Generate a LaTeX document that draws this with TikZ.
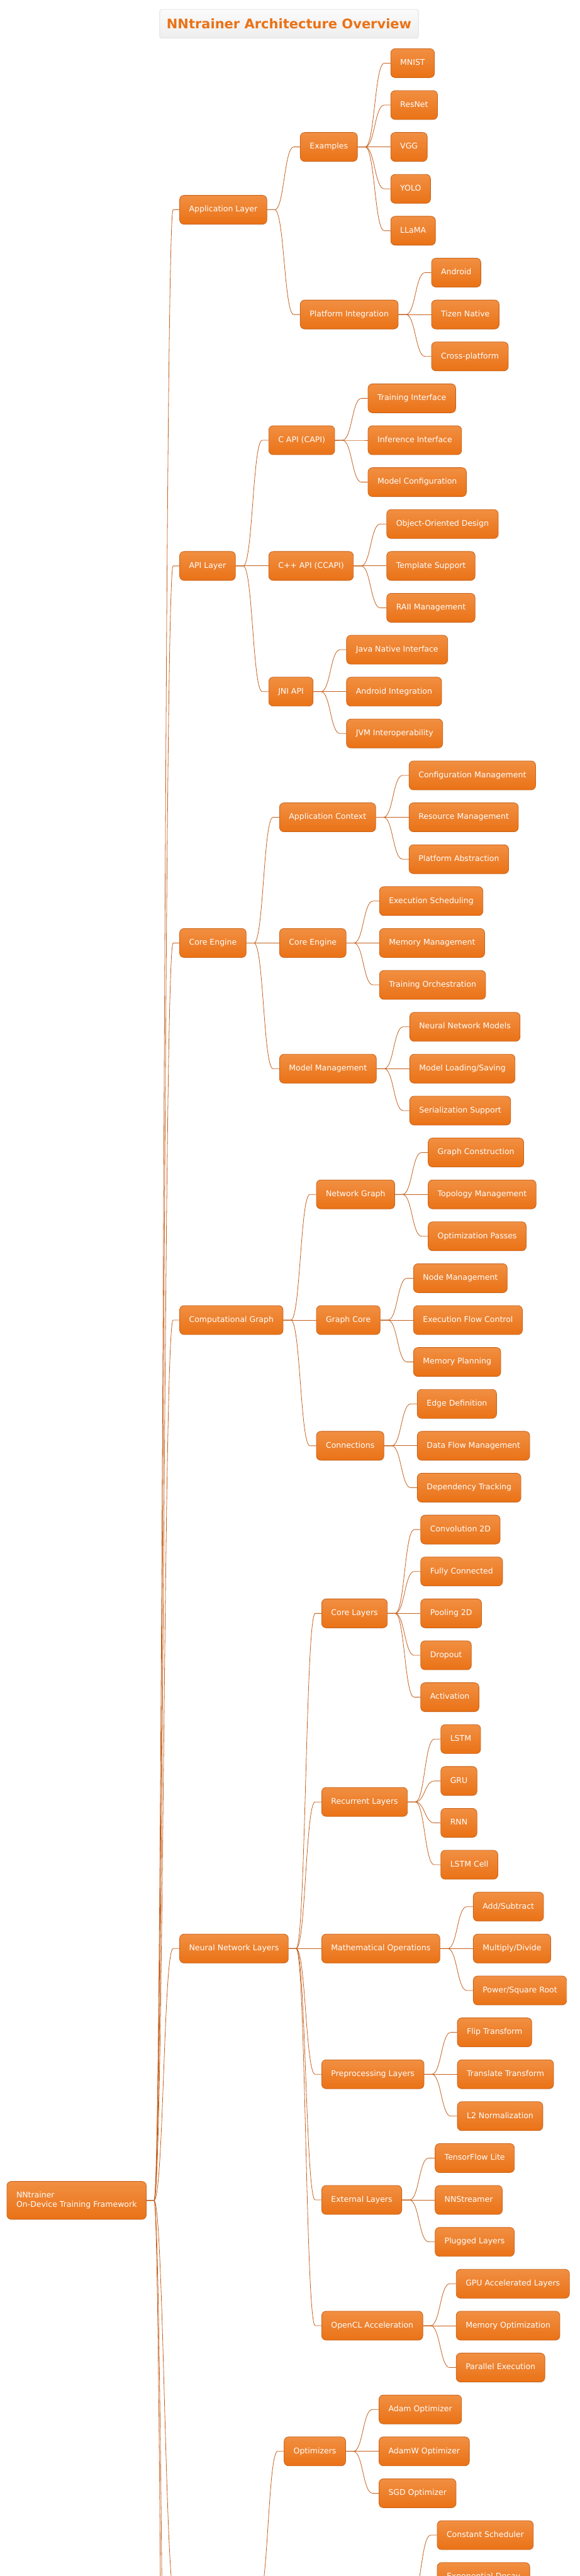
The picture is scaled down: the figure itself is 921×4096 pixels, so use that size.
\documentclass[tikz,border=0pt]{standalone}
\usepackage{fontspec}
\setmainfont{DejaVu Sans}
\usetikzlibrary{calc}
\definecolor{boxtop}{RGB}{241,143,66}
\definecolor{boxbot}{RGB}{234,114,22}
\definecolor{boxline}{RGB}{200,98,26}
\definecolor{linkc}{RGB}{196,96,28}
\definecolor{titlec}{RGB}{234,114,22}
\definecolor{ttop}{RGB}{251,251,251}
\definecolor{tbot}{RGB}{238,238,238}
\definecolor{tline}{RGB}{224,224,224}
\tikzset{
  mbase/.style={draw=boxline, line width=0.8pt, rounded corners=7pt,
    top color=boxtop, bottom color=boxbot, text=white,
    inner xsep=15pt, inner ysep=0pt,
    font=\fontsize{12.5pt}{14.7pt}\selectfont},
  mbox/.style={mbase, minimum height=46pt, text height=9.3pt, text depth=2.7pt},
  rootbox/.style={mbase, align=left, minimum height=60.3pt},
  titlebox/.style={draw=tline, line width=0.8pt, rounded corners=3pt,
    top color=ttop, bottom color=tbot, text=titlec,
    font=\bfseries\fontsize{21pt}{25pt}\selectfont,
    minimum height=45.7pt, inner xsep=11pt},
  cline/.style={draw=linkc, line width=0.8pt}
}
\newcommand\mmconn[2]{\draw[cline] (#1) -- ++(12pt,0pt) coordinate (cf)
  .. controls ($(cf)+(15.15pt,0pt)$) and ($(#2)+(-25.15pt,0pt)$) .. ($(#2)+(-10pt,0pt)$) -- (#2);}
\newcommand\mmkid[4]{\path let \p1=(#1) in
  node[mbox,anchor=west] (#2) at ({\x1+52.3pt},{-(100.4+66.62*(#3))*1pt}) {#4};
  \mmconn{#1}{#2.west}}
\begin{document}
\begin{tikzpicture}
\path[use as bounding box, fill=white] (0pt,0pt) rectangle (921pt,-4096pt);
\node[titlebox] (title) at (459.5pt,-37.9pt) {NNtrainer Architecture Overview};
\node[rootbox,anchor=west] (root) at (10.6pt,-3498.7pt) {NNtrainer\\On-Device Training Framework};
% Application Layer
\mmkid{root.east}{app}{3.5}{Application Layer}
\mmkid{app.east}{ex}{2}{Examples}
\mmkid{ex.east}{mnist}{0}{MNIST}
\mmkid{ex.east}{resnet}{1}{ResNet}
\mmkid{ex.east}{vgg}{2}{VGG}
\mmkid{ex.east}{yolo}{3}{YOLO}
\mmkid{ex.east}{llama}{4}{LLaMA}
\mmkid{app.east}{pi}{6}{Platform Integration}
\mmkid{pi.east}{android}{5}{Android}
\mmkid{pi.east}{tizen}{6}{Tizen Native}
\mmkid{pi.east}{cross}{7}{Cross-platform}
% API Layer
\mmkid{root.east}{api}{12}{API Layer}
\mmkid{api.east}{capi}{9}{C API (CAPI)}
\mmkid{capi.east}{trif}{8}{Training Interface}
\mmkid{capi.east}{inif}{9}{Inference Interface}
\mmkid{capi.east}{mconf}{10}{Model Configuration}
\mmkid{api.east}{ccapi}{12}{C++ API (CCAPI)}
\mmkid{ccapi.east}{ood}{11}{Object-Oriented Design}
\mmkid{ccapi.east}{tmpl}{12}{Template Support}
\mmkid{ccapi.east}{raii}{13}{RAII Management}
\mmkid{api.east}{jni}{15}{JNI API}
\mmkid{jni.east}{jnif}{14}{Java Native Interface}
\mmkid{jni.east}{andint}{15}{Android Integration}
\mmkid{jni.east}{jvm}{16}{JVM Interoperability}
% Core Engine
\mmkid{root.east}{core}{21}{Core Engine}
\mmkid{core.east}{actx}{18}{Application Context}
\mmkid{actx.east}{confm}{17}{Configuration Management}
\mmkid{actx.east}{resm}{18}{Resource Management}
\mmkid{actx.east}{plabs}{19}{Platform Abstraction}
\mmkid{core.east}{coreb}{21}{Core Engine}
\mmkid{coreb.east}{exsch}{20}{Execution Scheduling}
\mmkid{coreb.east}{memm}{21}{Memory Management}
\mmkid{coreb.east}{traor}{22}{Training Orchestration}
\mmkid{core.east}{mm}{24}{Model Management}
\mmkid{mm.east}{nnm}{23}{Neural Network Models}
\mmkid{mm.east}{mls}{24}{Model Loading/Saving}
\mmkid{mm.east}{sers}{25}{Serialization Support}
% Computational Graph
\mmkid{root.east}{cg}{30}{Computational Graph}
\mmkid{cg.east}{ng}{27}{Network Graph}
\mmkid{ng.east}{gcons}{26}{Graph Construction}
\mmkid{ng.east}{topm}{27}{Topology Management}
\mmkid{ng.east}{optp}{28}{Optimization Passes}
\mmkid{cg.east}{gc}{30}{Graph Core}
\mmkid{gc.east}{nodem}{29}{Node Management}
\mmkid{gc.east}{efc}{30}{Execution Flow Control}
\mmkid{gc.east}{memp}{31}{Memory Planning}
\mmkid{cg.east}{cn}{33}{Connections}
\mmkid{cn.east}{edged}{32}{Edge Definition}
\mmkid{cn.east}{dfm}{33}{Data Flow Management}
\mmkid{cn.east}{dept}{34}{Dependency Tracking}
% Neural Network Layers
\mmkid{root.east}{nnl}{45}{Neural Network Layers}
\mmkid{nnl.east}{cl}{37}{Core Layers}
\mmkid{cl.east}{conv}{35}{Convolution 2D}
\mmkid{cl.east}{fc}{36}{Fully Connected}
\mmkid{cl.east}{pool}{37}{Pooling 2D}
\mmkid{cl.east}{drop}{38}{Dropout}
\mmkid{cl.east}{act}{39}{Activation}
\mmkid{nnl.east}{rl}{41.5}{Recurrent Layers}
\mmkid{rl.east}{lstm}{40}{LSTM}
\mmkid{rl.east}{gru}{41}{GRU}
\mmkid{rl.east}{rnn}{42}{RNN}
\mmkid{rl.east}{lstmc}{43}{LSTM Cell}
\mmkid{nnl.east}{mo}{45}{Mathematical Operations}
\mmkid{mo.east}{adds}{44}{Add/Subtract}
\mmkid{mo.east}{muld}{45}{Multiply/Divide}
\mmkid{mo.east}{pows}{46}{Power/Square Root}
\mmkid{nnl.east}{pl}{48}{Preprocessing Layers}
\mmkid{pl.east}{flip}{47}{Flip Transform}
\mmkid{pl.east}{trans}{48}{Translate Transform}
\mmkid{pl.east}{l2n}{49}{L2 Normalization}
\mmkid{nnl.east}{el}{51}{External Layers}
\mmkid{el.east}{tfl}{50}{TensorFlow Lite}
\mmkid{el.east}{nns}{51}{NNStreamer}
\mmkid{el.east}{plug}{52}{Plugged Layers}
\mmkid{nnl.east}{ocl}{54}{OpenCL Acceleration}
\mmkid{ocl.east}{gpu}{53}{GPU Accelerated Layers}
\mmkid{ocl.east}{memo}{54}{Memory Optimization}
\mmkid{ocl.east}{parx}{55}{Parallel Execution}
% branches continuing below the visible area
\coordinate (trainw) at (287.8pt,-4131pt);
\coordinate (train) at (399pt,-4131pt);
\coordinate (sched) at (642.3pt,-4131pt);
\coordinate (lowa) at (287.8pt,-5631pt);
\coordinate (lowb) at (287.8pt,-6834pt);
\mmconn{root.east}{trainw}
\mmconn{root.east}{lowa}
\mmconn{root.east}{lowb}
\mmkid{train}{opt}{57}{Optimizers}
\mmkid{opt.east}{adam}{56}{Adam Optimizer}
\mmkid{opt.east}{adamw}{57}{AdamW Optimizer}
\mmkid{opt.east}{sgd}{58}{SGD Optimizer}
\mmkid{sched}{csch}{59}{Constant Scheduler}
\mmkid{sched}{expd}{60}{Exponential Decay}
\end{tikzpicture}
\end{document}
